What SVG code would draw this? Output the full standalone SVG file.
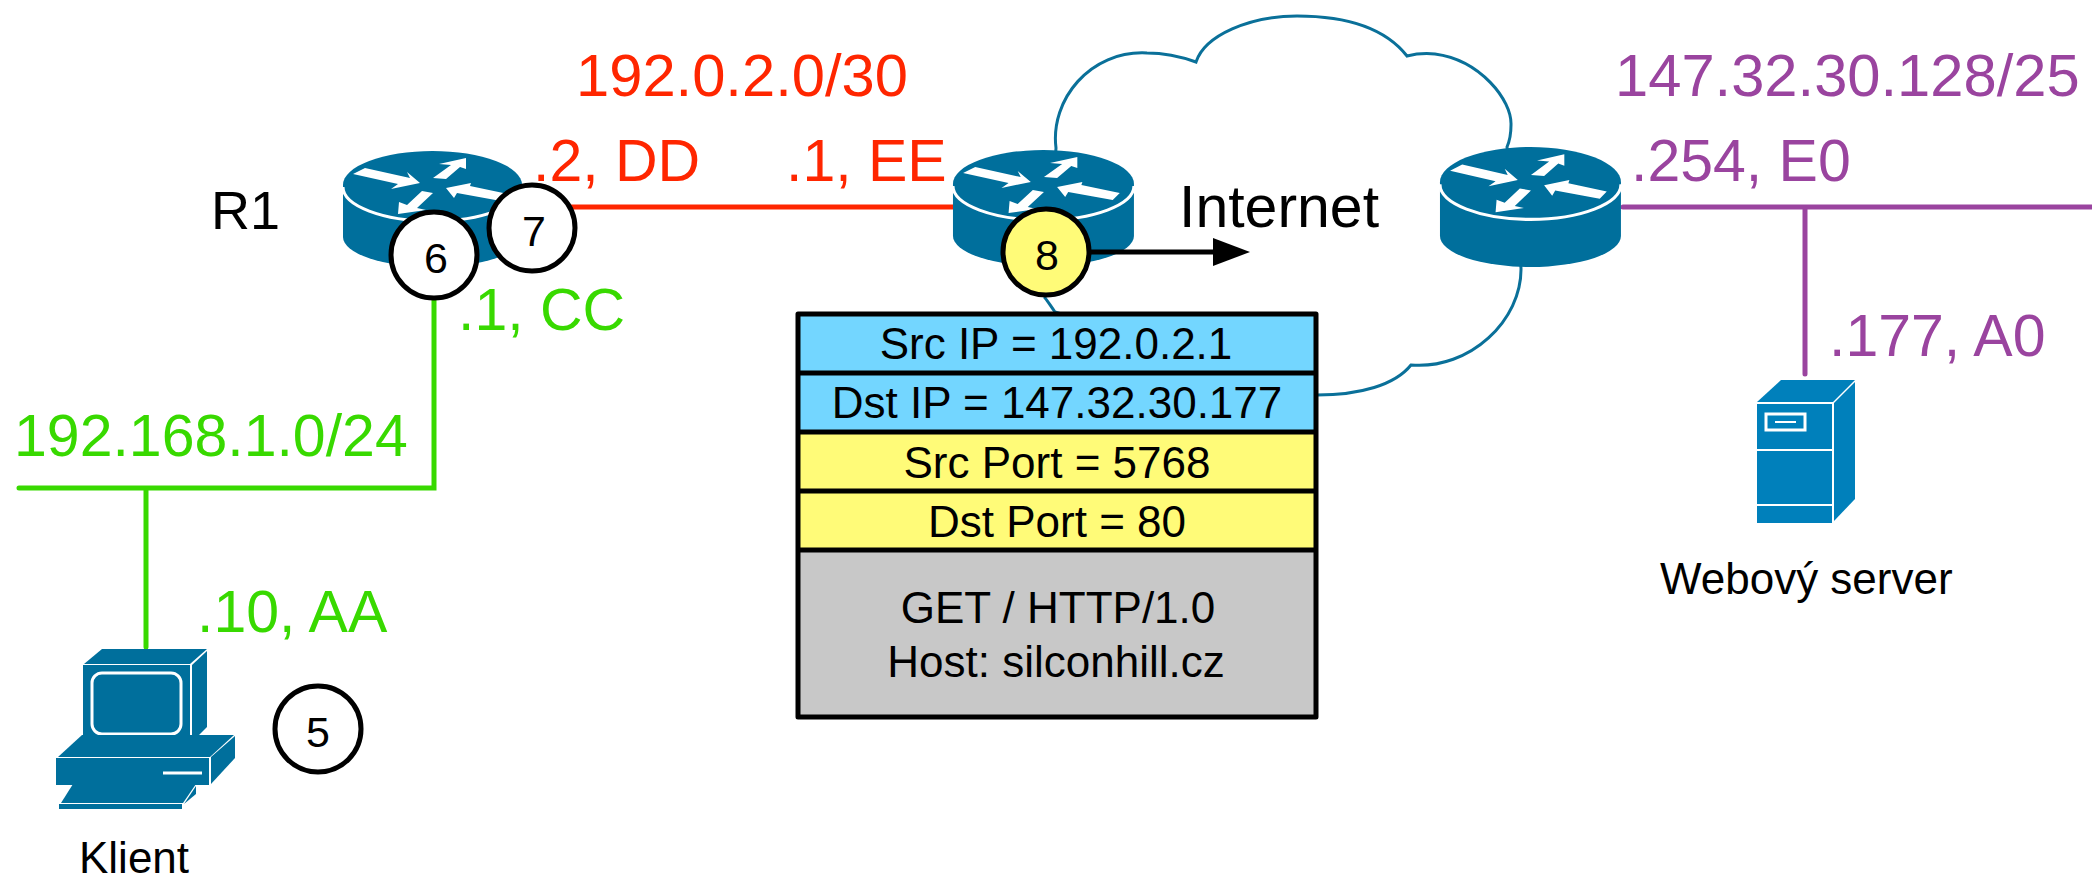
<svg xmlns="http://www.w3.org/2000/svg" width="2092" height="880" viewBox="0 0 2092 880">
<style>
text{font-family:"Liberation Sans",Arial,sans-serif;fill:#000}
.big{font-size:59.700px}
.lab{font-size:59px}
.red{fill:#ff2600}.grn{fill:#38d900}.pur{fill:#9a449f}
.box{font-size:44px;text-anchor:middle}
.num{font-size:43px;text-anchor:middle}
.cap{font-size:44px}
.c{stroke:#000;stroke-width:5;fill:#fff}
.ico{fill:#006f9c}
.srv{fill:#0080bb}
.w{fill:#fff}
.wl{fill:none;stroke:#fff;stroke-width:3}
.row{stroke:#000;stroke-width:5}
.ln{fill:none;stroke-width:5;stroke-linecap:round}
</style>
<defs>
<marker id="ah" markerUnits="userSpaceOnUse" markerWidth="37" markerHeight="28" refX="2" refY="14" orient="auto"><path d="M0,0L37,14L0,28Z" fill="#000"/></marker>
<g id="router">
<path class="ico" d="M343,185A89.500,34 0 0 1 522,185V237A89.500,30 0 0 1 343,237Z"/>
<path class="wl" d="M343,187A89.500,34 0 0 0 522,187"/>
<path class="w" d="M353,174L365,168L410,178L407,172L420,183L391,189L398,184Z"/>
<path class="w" d="M433,178L451,165L439,164L466,158L466,169L460,167L446,179Z"/>
<path class="w" d="M446,188L471,183L470,186L508,194L501,201L457,193L454,198Z"/>
<path class="w" d="M398,214L399,202L407,205L422,191L433,193L417,208L426,210Z"/>
</g>
</defs>
<rect width="2092" height="880" fill="#fff"/>
<g id="cloud"><path d="M1056,148C1050,100 1090,50 1147,53C1165,53 1182,57 1196,62C1205,35 1250,16 1297,16C1345,16 1385,28 1407,56C1415,54 1425,53 1435,54C1480,60 1512,100 1511,125C1511,135 1510,140 1507,147L1521,268C1522,320 1470,370 1411,365C1395,385 1360,395 1317,395L1055,312C1050,305 1047,300 1045,298Z" fill="none" stroke="#0a7099" stroke-width="3"/></g>
<g id="connectors">
<path class="ln" stroke="#38d900" d="M434,290V488H19M146,488V647"/>
<path class="ln" stroke="#ff2600" d="M570,207H953"/>
<path class="ln" stroke="#9a449f" d="M1623,207H2092M1805,207V374"/>
</g>
<g id="r1"><use href="#router"/></g>
<g id="r2"><use href="#router" transform="translate(606.200,-1) scale(1.011,1)"/></g>
<g id="r3"><use href="#router" transform="translate(1093.200,-9.100) scale(1.011,1.034)"/></g>
<g id="client">
<path class="ico" d="M102,649H207L190,664H84Z"/>
<path class="ico" d="M83,665H190V743H83Z"/>
<path class="ico" d="M192,665L207,651V727L192,742Z"/>
<rect class="wl" x="92" y="673" width="89" height="61" rx="10"/>
<path class="ico" d="M82,735L58,757H210L234,735Z"/>
<path class="ico" d="M56,758H209V785H56Z"/>
<path class="ico" d="M211,757L235,736V758L211,784Z"/>
<path d="M163,773H202" stroke="#fff" stroke-width="3"/>
<path class="ico" d="M73,784H196L183,803H61Z"/>
<path class="ico" d="M59,804H182V809H59Z"/>
<path class="ico" d="M184,804L196,794V786Z"/>
</g>
<g id="server">
<path class="srv" d="M1781,380H1855L1833,402H1757Z"/>
<path class="srv" d="M1757,404H1832V523H1757Z"/>
<path class="srv" d="M1834,403L1855,382V499L1834,521Z"/>
<rect class="wl" x="1766" y="414" width="39" height="16" stroke-width="2"/>
<path d="M1775,422H1796M1757,450H1832M1757,505H1832" stroke="#fff" stroke-width="2"/>
</g>
<g id="packet">
<rect x="798" y="314" width="518" height="118" fill="#73d6ff"/>
<rect x="798" y="432" width="518" height="118" fill="#fffb78"/>
<rect x="798" y="550" width="518" height="167" fill="#c8c8c8"/>
<path class="row" d="M798,373H1316M798,432H1316M798,491H1316M798,550H1316"/>
<rect x="798" y="314" width="518" height="403" fill="none" stroke="#000" stroke-width="5" stroke-linejoin="round"/>
<text class="box" x="1056" y="359">Src IP = 192.0.2.1</text>
<text class="box" x="1057" y="418">Dst IP = 147.32.30.177</text>
<text class="box" x="1057" y="478">Src Port = 5768</text>
<text class="box" x="1057" y="537">Dst Port = 80</text>
<text class="box" x="1058" y="623">GET / HTTP/1.0</text>
<text class="box" x="1056" y="677">Host: silconhill.cz</text>
</g>
<g id="arrow"><path d="M1090,252H1215" fill="none" stroke="#000" stroke-width="5" marker-end="url(#ah)"/></g>
<g id="b6"><circle class="c" cx="434" cy="255" r="43"/><text class="num" x="436" y="273">6</text></g>
<g id="b7"><circle class="c" cx="532" cy="228" r="43"/><text class="num" x="534" y="246">7</text></g>
<g id="b8"><circle class="c" cx="1046" cy="252" r="43" style="fill:#fffb78"/><text class="num" x="1047" y="270">8</text></g>
<g id="b5"><circle class="c" cx="318" cy="729" r="43"/><text class="num" x="318" y="747">5</text></g>
<g id="labels">
<text class="big red" x="576" y="96">192.0.2.0/30</text>
<text class="lab red" x="533" y="181">.2, DD</text>
<text class="lab red" x="786" y="181">.1, EE</text>
<text class="lab grn" x="458" y="330">.1, CC</text>
<text class="lab grn" x="14" y="456">192.168.1.0/24</text>
<text class="lab grn" x="197" y="632">.10, AA</text>
<text class="big pur" x="1615" y="96">147.32.30.128/25</text>
<text class="lab pur" x="1631" y="181">.254, E0</text>
<text class="lab pur" x="1829" y="356">.177, A0</text>
<text class="lab" style="font-size:54px" x="211" y="229">R1</text>
<text class="lab" x="1179" y="227">Internet</text>
<text class="cap" x="1660" y="594">Webový server</text>
<text class="cap" x="79" y="873">Klient</text>
</g>
</svg>
